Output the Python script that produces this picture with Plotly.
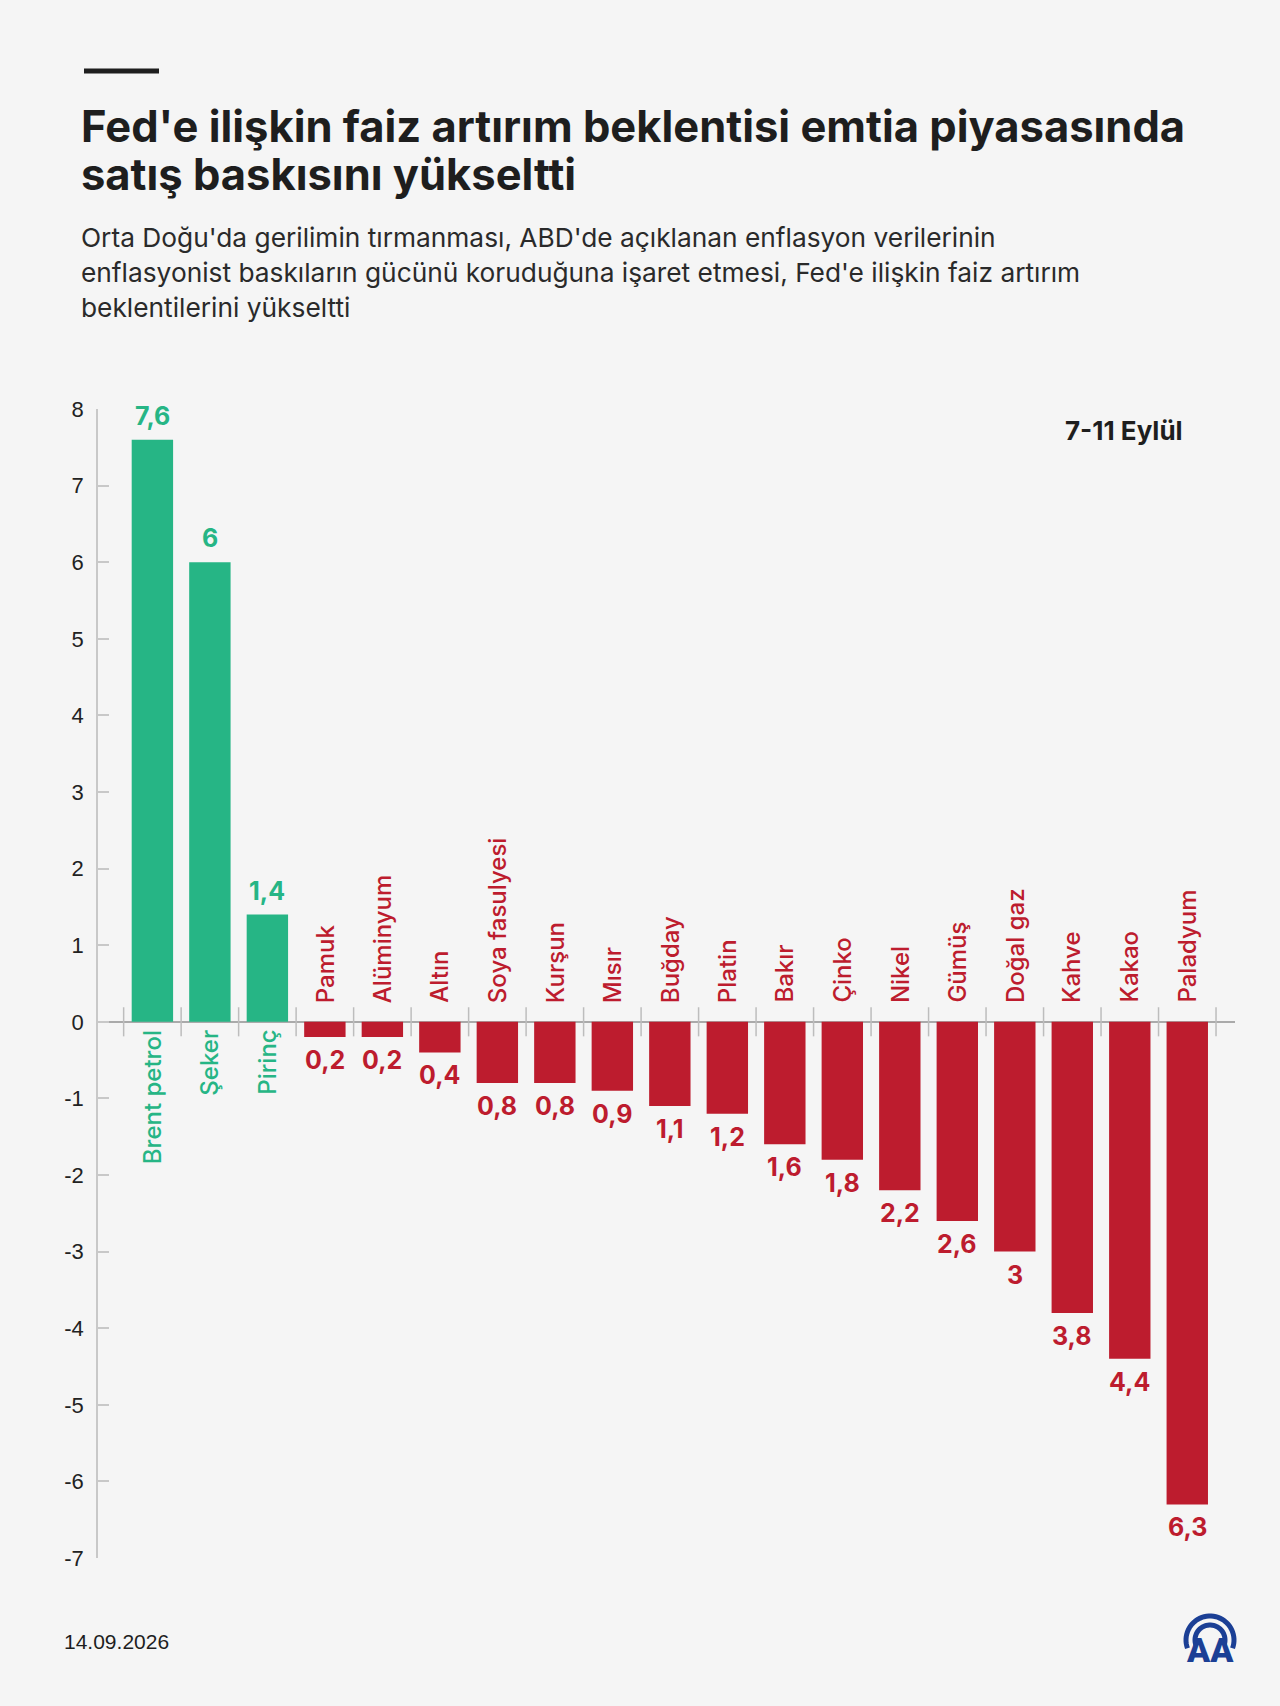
import numpy as np
import plotly.graph_objects as go

# weekly change, %
commodities = ["Brent petrol", "Şeker", "Pirinç", "Pamuk", "Alüminyum", "Altın",
               "Soya fasulyesi", "Kurşun", "Mısır", "Buğday", "Platin", "Bakır",
               "Çinko", "Nikel", "Gümüş", "Doğal gaz", "Kahve", "Kakao", "Paladyum"]
changes = [7.6, 6.0, 1.4, -0.2, -0.2, -0.4, -0.8, -0.8, -0.9, -1.1, -1.2, -1.6,
           -1.8, -2.2, -2.6, -3.0, -3.8, -4.4, -6.3]
y_ticks = list(range(-7, 9))

title_lines = ["Fed'e ilişkin faiz artırım beklentisi emtia piyasasında",
               "satış baskısını yükseltti"]
subtitle_lines = ["Orta Doğu'da gerilimin tırmanması, ABD'de açıklanan enflasyon verilerinin",
                  "enflasyonist baskıların gücünü koruduğuna işaret etmesi, Fed'e ilişkin faiz artırım",
                  "beklentilerini yükseltti"]
period = "7-11 Eylül"
date_text = "14.09.2026"

GREEN = "#26B585"
RED = "#BD1C2E"
BG = "#F5F5F5"
W, H = 1280, 1706
L, R, T, B = 98, 1235, 409, 1558
FONT = "Inter"


def px(x):
    return (x - L) / (R - L)


def py(y):
    return (B - y) / (B - T)


x = np.arange(len(commodities))
colors = [GREEN if v >= 0 else RED for v in changes]

fig = go.Figure()
fig.add_trace(go.Bar(x=x, y=changes, width=0.72, marker_color=colors,
                     marker_line_width=0, hoverinfo="skip"))

annotations = []
for i, (name, v, c) in enumerate(zip(commodities, changes, colors)):
    label = f"{abs(v):g}".replace(".", ",")
    pos = v >= 0
    # value label at bar end
    annotations.append(dict(x=i, y=v, xref="x", yref="y", text=label, showarrow=False,
                            yanchor="bottom" if pos else "top",
                            yshift=7 if pos else -6,
                            font=dict(family=FONT, size=25, color=c, weight=700)))
    # rotated category label on the other side of zero
    annotations.append(dict(x=i, y=0, xref="x", yref="y", text=name, showarrow=False,
                            textangle=-90,
                            yanchor="top" if pos else "bottom",
                            yshift=-6 if pos else 17,
                            font=dict(family=FONT, size=24, color=c, weight=500)))

for k, line in enumerate(title_lines):
    annotations.append(dict(x=px(79), y=py(126 + 48 * k), xref="paper", yref="paper",
                            text=line, showarrow=False, xanchor="left", yanchor="middle",
                            font=dict(family=FONT, size=43.5, color="#1E1E1E", weight=700)))
for k, line in enumerate(subtitle_lines):
    annotations.append(dict(x=px(79), y=py(237 + 35 * k), xref="paper", yref="paper",
                            text=line, showarrow=False, xanchor="left", yanchor="middle",
                            font=dict(family=FONT, size=26.3, color="#2A2A2A")))

annotations.append(dict(x=px(1185), y=py(430), xref="paper", yref="paper", text=period,
                        showarrow=False, xanchor="right", yanchor="middle",
                        font=dict(family=FONT, size=26, color="#1E1E1E", weight=700)))
annotations.append(dict(x=px(62), y=py(1641), xref="paper", yref="paper", text=date_text,
                        showarrow=False, xanchor="left", yanchor="middle",
                        font=dict(family="Liberation Sans", size=21, color="#1E1E1E")))
# AA logo letters
annotations.append(dict(x=px(1210), y=py(1650), xref="paper", yref="paper", text="AA",
                        showarrow=False, xanchor="center", yanchor="middle",
                        font=dict(family="Roboto", size=34, color="#1B3F95", weight=900)))

shapes = []
# top accent bar
shapes.append(dict(type="line", xref="paper", yref="paper", x0=px(84), x1=px(159),
                   y0=py(71), y1=py(71), line=dict(color="#1E1E1E", width=5)))
# crossing ticks on the zero line at category boundaries
for b in np.arange(len(commodities) + 1) - 0.5:
    shapes.append(dict(type="line", xref="x", yref="y", x0=b, x1=b, y0=-0.19, y1=0.19,
                       line=dict(color="#BDBDBD", width=1.5)))


# logo arches
def arch(cx, cy, r):
    ang = np.linspace(np.radians(200), np.radians(-20), 40)
    pts = [(px(cx + r * np.cos(a)), py(cy - r * np.sin(a))) for a in ang]
    return "M " + " L ".join(f"{a:.5f},{b:.5f}" for a, b in pts)


for r in (24, 15):
    shapes.append(dict(type="path", xref="paper", yref="paper", path=arch(1210, 1640, r),
                       line=dict(color="#1B3F95", width=5)))

fig.update_layout(
    width=W, height=H,
    margin=dict(l=L, r=W - R, t=T, b=H - B, pad=0),
    paper_bgcolor=BG, plot_bgcolor=BG,
    showlegend=False,
    annotations=annotations,
    shapes=shapes,
)
fig.update_xaxes(range=[-0.946, 18.83], showticklabels=False, showgrid=False,
                 zeroline=False, showline=False, ticks="")
fig.update_yaxes(range=[-7, 8], tickvals=y_ticks, ticktext=[str(v) for v in y_ticks],
                 showgrid=False,
                 showline=True, linecolor="#C8C8C8", linewidth=1.5,
                 ticks="inside", ticklen=11, tickcolor="#C8C8C8", tickwidth=1.5,
                 zeroline=True, zerolinecolor="#AAAAAA", zerolinewidth=1.5,
                 ticklabelstandoff=8,
                 tickfont=dict(family="Liberation Sans", size=22, color="#222222"))

# page has a default body margin; drop it so the figure sits at the page origin
fig.write_html("out.html",
               config={"displayModeBar": False},
               post_script="document.body.style.margin='0';"
                           "document.body.style.background='#F5F5F5';")
